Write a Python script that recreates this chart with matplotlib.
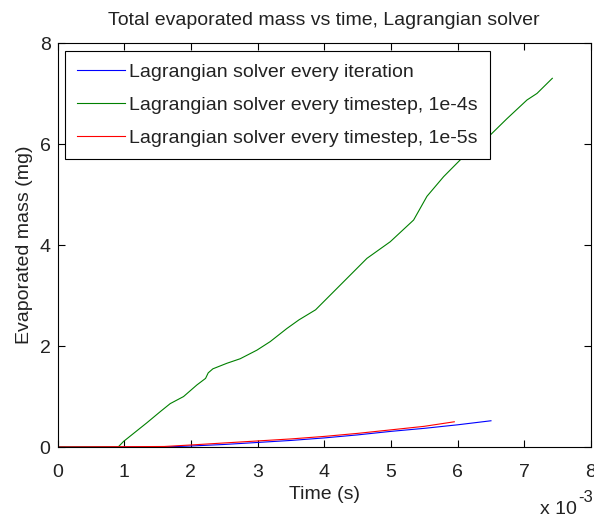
import numpy as np
import matplotlib
matplotlib.use('Agg')
import matplotlib.pyplot as plt
from matplotlib.ticker import FuncFormatter

plt.rcParams['font.family'] = ['Liberation Sans', 'DejaVu Sans']

# time in seconds, mass in mg
t_iter = np.array([0, 1.6, 2.0, 2.5, 3.0, 3.5, 4.0, 4.5, 5.0, 5.5, 6.0, 6.5]) * 1e-3
m_iter = [0, 0, 0.02, 0.05, 0.09, 0.13, 0.18, 0.24, 0.31, 0.37, 0.44, 0.52]

t_1e4 = np.array([0, 0.91, 0.99, 1.34, 1.54, 1.69, 1.89, 2.09, 2.22, 2.26, 2.33, 2.54, 2.74,
                  2.99, 3.19, 3.44, 3.62, 3.87, 4.24, 4.64, 4.99, 5.34, 5.54, 5.79,
                  6.09, 6.47, 6.74, 7.04, 7.19, 7.42]) * 1e-3
m_1e4 = [0, 0, 0.11, 0.48, 0.70, 0.86, 1.00, 1.23, 1.36, 1.47, 1.55, 1.66, 1.75,
         1.92, 2.09, 2.35, 2.52, 2.72, 3.21, 3.74, 4.07, 4.50, 4.97, 5.36,
         5.76, 6.16, 6.51, 6.88, 7.01, 7.31]

t_1e5 = np.array([0, 1.6, 2.0, 2.5, 3.0, 3.5, 4.0, 4.5, 5.0, 5.5, 5.95]) * 1e-3
m_1e5 = [0, 0.01, 0.04, 0.08, 0.12, 0.16, 0.21, 0.27, 0.34, 0.41, 0.50]

labels = ['Lagrangian solver every iteration',
          'Lagrangian solver every timestep, 1e-4s',
          'Lagrangian solver every timestep, 1e-5s']

fs = 14
txt = '#222222'

fig = plt.figure(figsize=(5.94, 5.23), dpi=100)
ax = fig.add_axes([57.5/594, 76/523, 533.5/594, 403.5/523])

ax.plot(t_iter, m_iter, color='#0000ff', lw=0.8, label=labels[0])
ax.plot(t_1e4, m_1e4, color='#008000', lw=0.8, label=labels[1])
ax.plot(t_1e5, m_1e5, color='#ff0000', lw=0.8, label=labels[2])

ax.set_xlim(0, 8e-3)
ax.set_ylim(0, 8)
ax.set_xticks(np.arange(0, 9) * 1e-3)
ax.set_yticks([0, 2, 4, 6, 8])
ax.xaxis.set_major_formatter(FuncFormatter(lambda v, p: '%g' % round(v * 1e3, 6)))
ax.tick_params(direction='in', top=True, right=True, length=5, width=0.8,
               labelsize=fs, labelcolor=txt)
ax.tick_params(axis='x', pad=12.5)
ax.tick_params(axis='y', pad=5)
for s in ax.spines.values():
    s.set_linewidth(0.8)

ax.set_title('Total evaporated mass vs time, Lagrangian solver', fontsize=fs, pad=13, color=txt)
ax.set_xlabel('Time (s)', fontsize=fs, labelpad=3, color=txt)
ax.set_ylabel('Evaporated mass (mg)', fontsize=fs, labelpad=5, color=txt)
fig.text(540/594, 1 - 509/523, 'x 10', fontsize=fs, va='center', color=txt)
fig.text(578/594, 1 - 497/523, '-3', fontsize=12, va='center', color=txt)

leg = ax.legend(loc='upper left', fontsize=fs, handlelength=2.45, handletextpad=0.2,
                borderaxespad=0.4, fancybox=False, framealpha=1, edgecolor='black',
                labelspacing=0.8, borderpad=0.62, labelcolor=txt)
leg.get_frame().set_linewidth(0.8)

fig.savefig('out.png', dpi=100)
